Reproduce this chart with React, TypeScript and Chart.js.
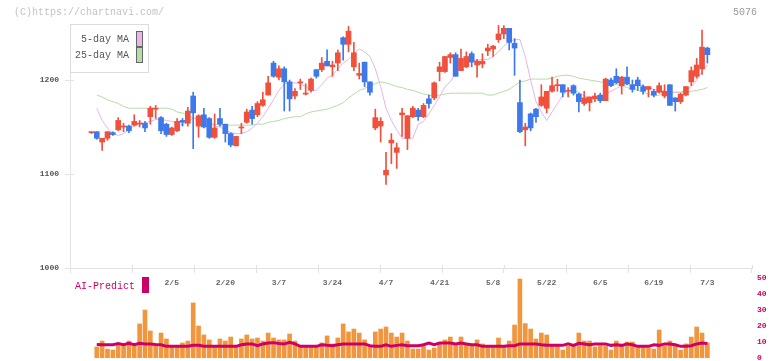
import React, { useEffect, useRef } from 'react';
import { Chart, registerables } from 'chart.js';

Chart.register(...registerables);

// ---------------- data ----------------
const opens = [
  1144, 1145, 1134, 1138, 1144, 1147, 1150, 1151, 1152, 1153,
  1154, 1161, 1169, 1160, 1153, 1142, 1146, 1157, 1154, 1183,
  1151, 1163, 1159, 1139, 1159, 1153, 1143, 1130, 1149, 1155,
  1168, 1163, 1173, 1184, 1218, 1203, 1212, 1198, 1183, 1197,
  1185, 1189, 1211, 1211, 1220, 1214, 1218, 1245, 1238, 1214,
  1205, 1219, 1198, 1149, 1151, 1099, 1133, 1123, 1163, 1138,
  1161, 1168, 1161, 1180, 1181, 1209, 1209, 1224, 1227, 1210,
  1214, 1228, 1216, 1217, 1231, 1233, 1243, 1249, 1255, 1239,
  1176, 1147, 1164, 1169, 1173, 1170, 1188, 1194, 1195, 1188,
  1194, 1185, 1175, 1176, 1180, 1184, 1178, 1200, 1204, 1194,
  1203, 1195, 1200, 1193, 1190, 1188, 1187, 1183, 1195, 1181,
  1177, 1184, 1198, 1204, 1212, 1234,
];
const highs = [
  1145, 1145, 1138, 1145, 1145, 1160, 1154, 1152, 1163, 1157,
  1156, 1172, 1173, 1161, 1154, 1150, 1159, 1159, 1171, 1187,
  1163, 1170, 1160, 1164, 1170, 1153, 1144, 1140, 1154, 1169,
  1172, 1177, 1187, 1204, 1220, 1215, 1214, 1200, 1191, 1201,
  1196, 1202, 1211, 1224, 1232, 1220, 1232, 1246, 1257, 1240,
  1218, 1219, 1198, 1169, 1160, 1123, 1143, 1133, 1170, 1162,
  1172, 1170, 1175, 1184, 1198, 1219, 1225, 1229, 1229, 1233,
  1230, 1230, 1222, 1228, 1238, 1237, 1258, 1258, 1255, 1244,
  1200, 1154, 1165, 1170, 1195, 1188, 1203, 1201, 1195, 1192,
  1195, 1186, 1188, 1182, 1186, 1186, 1202, 1202, 1212, 1204,
  1214, 1200, 1203, 1195, 1193, 1190, 1197, 1195, 1195, 1181,
  1186, 1193, 1214, 1223, 1253, 1235,
];
const lows = [
  1143, 1137, 1125, 1136, 1141, 1146, 1145, 1144, 1151, 1150,
  1145, 1153, 1159, 1143, 1140, 1141, 1145, 1151, 1151, 1127,
  1139, 1149, 1138, 1138, 1151, 1134, 1129, 1130, 1143, 1154,
  1153, 1161, 1172, 1184, 1203, 1200, 1167, 1167, 1180, 1190,
  1184, 1187, 1202, 1209, 1215, 1204, 1210, 1221, 1230, 1210,
  1201, 1193, 1184, 1147, 1134, 1089, 1111, 1106, 1140, 1126,
  1160, 1157, 1160, 1170, 1179, 1199, 1208, 1218, 1204, 1210,
  1213, 1214, 1203, 1213, 1226, 1225, 1240, 1244, 1232, 1205,
  1144, 1130, 1146, 1155, 1172, 1165, 1187, 1188, 1182, 1182,
  1184, 1166, 1173, 1167, 1177, 1176, 1178, 1193, 1196, 1185,
  1195, 1187, 1189, 1185, 1182, 1182, 1186, 1181, 1173, 1167,
  1175, 1183, 1194, 1202, 1206, 1218,
];
const closes = [
  1144, 1138, 1138, 1145, 1142, 1157, 1151, 1146, 1156, 1154,
  1149, 1170, 1170, 1146, 1142, 1149, 1156, 1155, 1167, 1165,
  1162, 1150, 1139, 1149, 1153, 1143, 1131, 1140, 1150, 1166,
  1159, 1175, 1179, 1197, 1204, 1212, 1198, 1180, 1188, 1198,
  1185, 1201, 1204, 1218, 1215, 1216, 1229, 1238, 1252, 1229,
  1207, 1198, 1187, 1160, 1156, 1104, 1136, 1128, 1165, 1162,
  1170, 1161, 1173, 1175, 1197, 1214, 1225, 1227, 1204, 1223,
  1225, 1219, 1220, 1220, 1234, 1236, 1249, 1255, 1240, 1234,
  1145, 1150, 1149, 1161, 1182, 1188, 1194, 1195, 1187, 1189,
  1186, 1177, 1181, 1182, 1183, 1178, 1201, 1194, 1197, 1203,
  1196, 1190, 1194, 1188, 1193, 1184, 1194, 1188, 1173, 1177,
  1185, 1193, 1210, 1216, 1235, 1227,
];
const ma5 = [
  null, 1170, 1157, 1149, 1143, 1141, 1143, 1147, 1151, 1155,
  1154, 1156, 1158, 1158, 1157, 1156, 1154, 1152, 1156, 1159,
  1160, 1157, 1154, 1151, 1150, 1147, 1144, 1143, 1143, 1145,
  1149, 1154, 1161, 1170, 1179, 1189, 1196, 1197, 1197, 1196,
  1193, 1189, 1189, 1195, 1202, 1205, 1212, 1218, 1222, 1228,
  1233, 1230, 1225, 1212, 1193, 1170, 1157, 1147, 1138, 1138,
  1138, 1153, 1156, 1164, 1173, 1182, 1193, 1198, 1207, 1221,
  1221, 1221, 1221, 1222, 1222, 1225, 1230, 1236, 1241, 1243,
  1243, 1225, 1200, 1177, 1166, 1157, 1166, 1175, 1184, 1189,
  1189, 1187, 1183, 1181, 1181, 1182, 1185, 1188, 1191, 1194,
  1195, 1195, 1195, 1194, 1192, 1190, 1189, 1188, 1187, 1187,
  1187, 1189, 1193, 1200, 1209, 1216,
];
const ma25 = [
  null, 1184, 1182, 1179, 1177, 1175, 1172, 1170, 1170, 1170,
  1170, 1170, 1170, 1170, 1170, 1169, 1166, 1165, 1162, 1160,
  1157, 1156, 1154, 1153, 1152, 1152, 1152, 1152, 1152, 1152,
  1152, 1153, 1153, 1155, 1156, 1157, 1159, 1160, 1161, 1161,
  1164, 1166, 1167, 1168, 1169, 1171, 1173, 1176, 1181, 1185,
  1189, 1191, 1194, 1196, 1198, 1197, 1195, 1193, 1192, 1190,
  1189, 1187, 1185, 1184, 1183, 1184, 1185, 1186, 1186, 1186,
  1186, 1186, 1186, 1186, 1184, 1184, 1186, 1188, 1190, 1194,
  1198, 1199, 1201, 1201, 1201, 1201, 1202, 1204, 1205, 1205,
  1204, 1202, 1201, 1200, 1199, 1198, 1197, 1196, 1195, 1194,
  1192, 1190, 1189, 1187, 1185, 1183, 1184, 1186, 1186, 1187,
  1187, 1187, 1188, 1189, 1190, 1192,
];
const volumes = [
  null, 6.9, 10.6, 5.6, 5.0, 8.1, 7.5, 10.6, 7.5, 21.3,
  30, 16.9, 7.5, 15.6, 11.9, 6.9, 6.9, 9.4, 10.6, 34.4,
  20, 14.4, 11.3, 6.9, 11.9, 10.6, 13.1, 6.9, 11.9, 14.4,
  11.9, 12.5, 10.6, 15.6, 12.5, 11.3, 11.3, 15, 10.6, 6.9,
  6.9, 6.9, 6.9, 9.4, 13.8, 8.8, 12.5, 21.3, 16.3, 18.1,
  15.6, 11.3, 6.9, 16.3, 18.1, 19.4, 15.6, 13.1, 15.6, 10.6,
  5.6, 5.6, 7.5, 5.0, 6.3, 8.8, 11.3, 13.1, 8.8, 13.1,
  9.4, 7.5, 11.3, 8.8, 7.5, 7.5, 12.5, 7.5, 10.6, 20.6,
  49.4, 21.5, 18.1, 11.9, 15.6, 14.4, 7.5, 7.5, 5.0, 7.5,
  7.5, 15.6, 10.6, 10.6, 6.9, 7.5, 7.5, 5.0, 10.6, 7.5,
  10, 10, 6.9, 6.9, 6.3, 5.6, 17.5, 7.5, 10.6, 7.5,
  5.0, 8.8, 13.1, 19.4, 15.6, 9.4,
];
const volMA = [
  null, 8.5, 8.3, 8.3, 8.3, 9.0, 8.3, 9.2, 8.3, 9.2,
  8.8, 8.8, 8.5, 8.3, 7.3, 7.3, 7.3, 7.3, 7.3, 7.9,
  7.9, 7.3, 7.3, 7.3, 7.3, 7.3, 7.3, 7.3, 8.3, 8.8,
  8.8, 7.7, 8.8, 9.4, 9.6, 9.0, 8.8, 9.8, 8.8, 7.3,
  7.3, 7.3, 7.3, 8.3, 7.9, 7.7, 8.3, 8.8, 8.8, 8.8,
  8.8, 8.8, 7.7, 7.3, 7.3, 8.3, 7.3, 7.9, 8.3, 7.7,
  7.7, 7.7, 8.3, 9.4, 8.3, 9.4, 9.4, 9.4, 8.8, 9.4,
  8.8, 8.3, 8.3, 7.3, 7.3, 7.3, 7.3, 7.3, 7.7, 7.7,
  8.8, 8.8, 8.8, 8.8, 8.3, 7.9, 7.9, 7.9, 7.9, 8.8,
  7.9, 9.2, 8.8, 8.3, 8.8, 8.8, 8.8, 7.9, 8.3, 7.9,
  8.8, 8.3, 7.3, 7.3, 7.3, 8.3, 7.9, 8.8, 8.8, 8.3,
  7.3, 7.3, 7.7, 8.8, 9.4, 9.0,
];
const dateLabels = ['2/5', '2/20', '3/7', '3/24', '4/7', '4/21', '5/8', '5/22', '6/5', '6/19', '7/3'];
const dateIndex = [15, 25, 35, 45, 55, 65, 75, 85, 95, 105, 115];
const priceTicks = [1000, 1100, 1200];
const volumeTicks = [0, 10, 20, 30, 40, 50];
const legendNames = ['5-day MA', '25-day MA'];

// ---------------- style ----------------
const W = 772;
const H = 361;
const X_MIN = -4;
const X_MAX = 123.33;
const P_MIN = 1000;
const P_MAX = 1259.6;
const MONO = "'Liberation Mono', 'DejaVu Sans Mono', monospace";
const RED = '#f0503c';
const BLUE = '#3d79ea';
const GRID = '#e2e2e2';
const PINK = '#e8b4ea';
const GREEN = '#b6dca8';
const ORANGE = '#f0963e';
const MAGENTA = '#cc0066';

const overlayPlugin = {
  id: 'overlay',
  afterDraw(chart: any) {
    const ctx = chart.ctx as CanvasRenderingContext2D;
    const ca = chart.chartArea;
    const xs = chart.scales.x;
    const ys = chart.scales.y;
    ctx.save();
    ctx.strokeStyle = GRID;
    ctx.lineWidth = 1;
    ctx.beginPath();
    xs.ticks.forEach((t: any) => {
      const px = Math.round(xs.getPixelForValue(t.value)) + 0.5;
      ctx.moveTo(px, ca.bottom);
      ctx.lineTo(px, ca.bottom - 3);
    });
    ys.ticks.forEach((t: any) => {
      const py = Math.round(ys.getPixelForValue(t.value)) + 0.5;
      ctx.moveTo(ca.left, py);
      ctx.lineTo(ca.left + 4, py);
    });
    ctx.stroke();

    ctx.font = `10px ${MONO}`;
    ctx.textBaseline = 'middle';
    ctx.textAlign = 'left';
    ctx.fillStyle = '#c4c4c4';
    ctx.fillText('(C)https://chartnavi.com/', 14, 12);
    ctx.fillStyle = '#9a9a9a';
    ctx.textAlign = 'right';
    ctx.fillText('5076', 757, 12);

    ctx.fillStyle = '#ffffff';
    ctx.fillRect(70, 24, 78, 48);
    ctx.strokeStyle = '#dcdcdc';
    ctx.strokeRect(70.5, 24.5, 78, 48);
    const lineSets = chart.data.datasets.filter((d: any) => d.type === 'line');
    lineSets.forEach((d: any, k: number) => {
      const cy = 39 + k * 16;
      ctx.fillStyle = '#555';
      ctx.textAlign = 'right';
      ctx.font = `10px ${MONO}`;
      ctx.fillText(d.label, 129, cy);
      ctx.fillStyle = d.borderColor;
      ctx.fillRect(136, cy - 8, 6, 15);
      ctx.strokeStyle = '#666';
      ctx.strokeRect(136.5, cy - 7.5, 6, 15);
    });

    ctx.fillStyle = MAGENTA;
    ctx.textAlign = 'left';
    ctx.font = `10px ${MONO}`;
    ctx.fillText('AI-Predict', 75, 286);
    ctx.fillRect(142, 277, 7, 16);
    ctx.restore();
  },
};

export default function App() {
  const topRef = useRef<HTMLCanvasElement>(null);
  const botRef = useRef<HTMLCanvasElement>(null);

  useEffect(() => {
    const idx = opens.map((_, i) => i);
    const colors = idx.map((i) => (closes[i] >= opens[i] ? RED : BLUE));

    const top = new Chart(topRef.current as HTMLCanvasElement, {
      type: 'bar',
      data: {
        datasets: [
          {
            type: 'bar',
            label: 'body',
            data: idx.map((i) => ({ x: i, y: [opens[i], closes[i]] })) as any,
            backgroundColor: colors,
            barThickness: 5,
            minBarLength: 1,
            grouped: false,
            order: 1,
          } as any,
          {
            type: 'bar',
            label: 'wick',
            data: idx.map((i) => ({ x: i, y: [lows[i], highs[i]] })) as any,
            backgroundColor: colors,
            barThickness: 1,
            grouped: false,
            order: 2,
          } as any,
          {
            type: 'line',
            label: legendNames[0],
            data: idx.map((i) => ({ x: i, y: ma5[i] })) as any,
            borderColor: PINK,
            borderWidth: 1,
            pointRadius: 0,
            tension: 0,
            order: 3,
          } as any,
          {
            type: 'line',
            label: legendNames[1],
            data: idx.map((i) => ({ x: i, y: ma25[i] })) as any,
            borderColor: GREEN,
            borderWidth: 1,
            pointRadius: 0,
            tension: 0,
            order: 4,
          } as any,
        ],
      },
      options: {
        responsive: false,
        animation: false,
        events: [],
        clip: false as any,
        layout: { padding: { left: 0, right: 20, top: 24, bottom: 63 } },
        plugins: { legend: { display: false }, tooltip: { enabled: false } },
        scales: {
          x: {
            type: 'linear',
            min: X_MIN,
            max: X_MAX,
            offset: false,
            position: 'bottom',
            weight: 0,
            afterBuildTicks: (s: any) => {
              s.ticks = Array.from({ length: 12 }, (_, k) => ({ value: X_MIN + (k * (X_MAX - X_MIN)) / 11 }));
            },
            afterFit: (s: any) => {
              s.height = 10;
            },
            ticks: { display: false },
            grid: { drawOnChartArea: false, offset: false, color: GRID, tickLength: 5 },
            border: { color: GRID },
          },
          x2: {
            type: 'linear',
            min: X_MIN,
            max: X_MAX,
            offset: false,
            position: 'bottom',
            weight: 1,
            afterBuildTicks: (s: any) => {
              s.ticks = dateIndex.map((v) => ({ value: v }));
            },
            afterFit: (s: any) => {
              s.height = 20;
            },
            ticks: {
              autoSkip: false,
              maxRotation: 0,
              padding: 0,
              color: '#666',
              font: { family: MONO, size: 8, weight: 'bold' },
              callback: (_v: any, i: number) => dateLabels[i],
            },
            grid: { display: false, drawTicks: false, offset: false },
            border: { display: false },
          },
          y: {
            type: 'linear',
            min: P_MIN,
            max: P_MAX,
            position: 'left',
            afterBuildTicks: (s: any) => {
              s.ticks = priceTicks.map((v) => ({ value: v }));
            },
            afterFit: (s: any) => {
              s.width = 70;
            },
            ticks: {
              padding: 6,
              color: '#555',
              font: { family: MONO, size: 8, weight: 'bold' },
              callback: (v: any) => String(v),
            },
            grid: { drawOnChartArea: false, color: GRID, tickLength: 5 },
            border: { color: GRID },
          },
        },
      } as any,
      plugins: [overlayPlugin],
    });

    const bot = new Chart(botRef.current as HTMLCanvasElement, {
      type: 'bar',
      data: {
        datasets: [
          {
            type: 'line',
            label: 'AI-Predict',
            data: idx.map((i) => ({ x: i, y: volMA[i] })) as any,
            borderColor: MAGENTA,
            borderWidth: 3,
            pointRadius: 0,
            tension: 0,
            order: 0,
          } as any,
          {
            type: 'bar',
            label: 'volume',
            data: idx.map((i) => ({ x: i, y: volumes[i] })) as any,
            backgroundColor: ORANGE,
            barThickness: 4,
            grouped: false,
            order: 1,
          } as any,
        ],
      },
      options: {
        responsive: false,
        animation: false,
        events: [],
        layout: { padding: { left: 70, right: 0, top: 278, bottom: 12 } },
        plugins: { legend: { display: false }, tooltip: { enabled: false } },
        scales: {
          x: { type: 'linear', min: X_MIN, max: X_MAX, offset: false, display: false, grid: { offset: false } },
          y: {
            type: 'linear',
            min: 0,
            max: 50,
            position: 'right',
            afterBuildTicks: (s: any) => {
              s.ticks = volumeTicks.map((v) => ({ value: v }));
            },
            afterFit: (s: any) => {
              s.width = 20;
            },
            ticks: {
              padding: 5,
              color: MAGENTA,
              font: { family: MONO, size: 8, weight: 'bold' },
            },
            grid: { display: false, drawTicks: false },
            border: { display: false },
          },
        },
      } as any,
    });

    return () => {
      top.destroy();
      bot.destroy();
    };
  }, []);

  return (
    <div
      style={{
        position: 'fixed',
        left: 0,
        top: 0,
        width: W,
        height: H,
        overflow: 'hidden',
        background: '#ffffff',
      }}
    >
      <canvas ref={topRef} width={W} height={H} style={{ position: 'absolute', left: 0, top: 0 }} />
      <canvas ref={botRef} width={W} height={370} style={{ position: 'absolute', left: 0, top: 0 }} />
    </div>
  );
}
